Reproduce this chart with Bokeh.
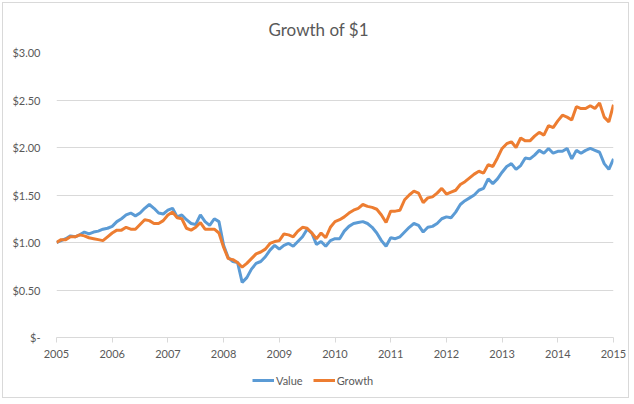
from bokeh.plotting import figure
from bokeh.layouts import column
from bokeh.models import Range1d, FixedTicker, Legend, LegendItem
from bokeh.embed import file_html
from bokeh.resources import INLINE

# Monthly growth of $1, Jan 2005 - Jan 2015 (121 months)
start_year = 2005
value_series = [
    1.00, 1.02, 1.04, 1.07, 1.06, 1.08, 1.11, 1.09, 1.11, 1.12, 1.14, 1.15,
    1.17, 1.22, 1.25, 1.29, 1.31, 1.28, 1.31, 1.36, 1.40, 1.36, 1.31, 1.30,
    1.34, 1.36, 1.27, 1.29, 1.24, 1.20, 1.19, 1.29, 1.22, 1.18, 1.25, 1.22,
    0.97, 0.84, 0.80, 0.79, 0.58, 0.63, 0.72, 0.78, 0.80, 0.85, 0.92, 0.97,
    0.93, 0.97, 0.99, 0.96, 1.01, 1.06, 1.14, 1.10, 0.98, 1.01, 0.96, 1.02,
    1.04, 1.04, 1.12, 1.17, 1.20, 1.21, 1.22, 1.20, 1.16, 1.10, 1.02, 0.96,
    1.05, 1.04, 1.06, 1.11, 1.16, 1.20, 1.18, 1.11, 1.16, 1.17, 1.20, 1.25,
    1.27, 1.26, 1.32, 1.40, 1.44, 1.47, 1.50, 1.55, 1.57, 1.67, 1.62, 1.67,
    1.74, 1.80, 1.83, 1.77, 1.81, 1.89, 1.88, 1.92, 1.97, 1.94, 1.99, 1.94,
    1.96, 1.96, 1.99, 1.88, 1.97, 1.94, 1.97, 1.99, 1.97, 1.95, 1.83, 1.77,
    1.88,
]
growth_series = [
    1.00, 1.03, 1.03, 1.06, 1.06, 1.08, 1.07, 1.05, 1.04, 1.03, 1.02, 1.06,
    1.10, 1.13, 1.13, 1.16, 1.14, 1.14, 1.19, 1.24, 1.23, 1.20, 1.20, 1.23,
    1.29, 1.32, 1.26, 1.25, 1.15, 1.13, 1.16, 1.21, 1.14, 1.14, 1.14, 1.10,
    0.95, 0.83, 0.82, 0.79, 0.74, 0.78, 0.83, 0.88, 0.90, 0.93, 0.99, 1.01,
    1.02, 1.09, 1.08, 1.06, 1.12, 1.16, 1.15, 1.10, 1.04, 1.10, 1.05, 1.16,
    1.22, 1.24, 1.27, 1.31, 1.34, 1.36, 1.40, 1.38, 1.37, 1.35, 1.29, 1.21,
    1.33, 1.33, 1.34, 1.45, 1.50, 1.54, 1.52, 1.42, 1.47, 1.48, 1.52, 1.57,
    1.51, 1.53, 1.55, 1.61, 1.64, 1.68, 1.72, 1.75, 1.73, 1.82, 1.80, 1.89,
    1.99, 2.04, 2.06, 2.00, 2.10, 2.07, 2.07, 2.12, 2.16, 2.13, 2.23, 2.21,
    2.28, 2.34, 2.32, 2.29, 2.43, 2.41, 2.41, 2.44, 2.41, 2.47, 2.32, 2.27,
    2.45,
]
series_names = ["Value", "Growth"]
series_colors = ["#5B9BD5", "#ED7D31"]
year_ticks = list(range(2005, 2016))
y_ticks = [0.0, 0.5, 1.0, 1.5, 2.0, 2.5, 3.0]
y_tick_labels = ["$-", "$0.50", "$1.00", "$1.50", "$2.00", "$2.50", "$3.00"]

months = [start_year + i / 12 for i in range(len(value_series))]
all_series = [value_series, growth_series]

FONT = "Lato"
TEXT = "#595959"
GRID = "#D9D9D9"

p = figure(
    frame_width=557, frame_height=285,
    x_range=Range1d(2005, 2015), y_range=Range1d(0, 3),
    output_backend="svg", toolbar_location=None,
    min_border_left=53, min_border_right=15,
    min_border_top=49, min_border_bottom=29,
)

p.title.text = "Growth of $1"
p.title.align = "left"
p.title.offset = 212
p.title.standoff = 26
p.title.text_font = FONT
p.title.text_font_size = "17px"
p.title.text_font_style = "normal"
p.title.text_color = TEXT

p.outline_line_color = None
p.background_fill_color = "white"
p.border_fill_color = "white"

# axes
p.xaxis.ticker = FixedTicker(ticks=year_ticks)
p.xaxis.axis_line_color = GRID
p.xaxis.major_tick_line_color = GRID
p.xaxis.major_tick_out = 5
p.xaxis.major_tick_in = 0
p.xaxis.minor_tick_line_color = None
p.xaxis.major_label_text_font = FONT
p.xaxis.major_label_text_font_size = "11px"
p.xaxis.major_label_text_color = TEXT
p.xaxis.major_label_standoff = 7

p.yaxis.ticker = FixedTicker(ticks=y_ticks)
p.yaxis.major_label_overrides = dict(zip(y_ticks, y_tick_labels))
p.yaxis.axis_line_color = None
p.yaxis.major_tick_line_color = None
p.yaxis.minor_tick_line_color = None
p.yaxis.major_label_text_font = FONT
p.yaxis.major_label_text_font_size = "11px"
p.yaxis.major_label_text_color = TEXT
p.yaxis.major_label_standoff = 10

p.xgrid.grid_line_color = None
p.ygrid.grid_line_color = GRID
p.ygrid.grid_line_width = 1

for data, color in zip(all_series, series_colors):
    p.line(months, data, line_color=color, line_width=3)

# legend strip under the chart (its series renderers are hidden)
leg = figure(
    width=625, height=31,
    x_range=Range1d(2005, 2015), y_range=Range1d(0, 3),
    x_axis_type=None, y_axis_type=None,
    output_backend="svg", toolbar_location=None,
    min_border=0,
)
leg.outline_line_color = None
leg.grid.visible = False
leg_renderers = [
    leg.line(months, data, line_color=c, line_width=3, visible=False)
    for data, c in zip(all_series, series_colors)
]

legend = Legend(
    items=[LegendItem(label=n, renderers=[r]) for n, r in zip(series_names, leg_renderers)],
    orientation="horizontal",
    location=(196, 10),
    label_text_font=FONT,
    label_text_font_size="11px",
    label_text_color=TEXT,
    glyph_width=22,
    glyph_height=14,
    label_height=14,
    label_standoff=2,
    spacing=10,
    border_line_color=None,
    background_fill_alpha=0,
    inactive_fill_alpha=0,
    padding=2,
    margin=0,
)
leg.add_layout(legend)

layout = column(p, leg, spacing=0)
layout.styles = {"margin": "2px 4px 6px 2px", "border": "1px solid #D9D9D9"}

open("out.html", "w").write(file_html(layout, INLINE))
